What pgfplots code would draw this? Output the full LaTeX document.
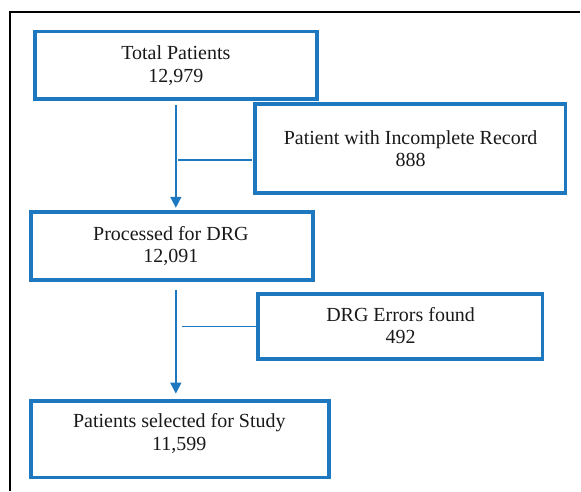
\documentclass[border=0pt]{standalone}
\usepackage{pgfplots}
\pgfplotsset{compat=1.18}
\usepackage{fontspec}
\setmainfont{Liberation Serif}
\usetikzlibrary{arrows.meta}
\definecolor{fcblue}{RGB}{30,120,192}
\begin{document}
\begin{tikzpicture}
\begin{axis}[
  scale only axis, width=581pt, height=491pt,
  xmin=0, xmax=581, ymin=0, ymax=491, y dir=reverse,
  hide axis, clip=false,
]
% extent
\addplot[draw=none] coordinates {(0,0) (581,491)};
% outer frame (top and left only)
\addplot[black, line width=1.1pt] coordinates {(581,12) (10,12) (10,491)};
% boxes
\addplot[fcblue, line width=3.9pt] coordinates {(35,31.5) (317.5,31.5) (317.5,99) (35,99)} -- cycle;
\addplot[fcblue, line width=3.9pt] coordinates {(255,104) (566,104) (566,193) (255,193)} -- cycle;
\addplot[fcblue, line width=3.9pt] coordinates {(31,212.5) (313,212.5) (313,280) (31,280)} -- cycle;
\addplot[fcblue, line width=3.9pt] coordinates {(258,294) (543,294) (543,359) (258,359)} -- cycle;
\addplot[fcblue, line width=3.9pt] coordinates {(31,401) (329,401) (329,478) (31,478)} -- cycle;
% arrows
\addplot[fcblue, line width=1.5pt, -{Triangle[width=11pt,length=11pt]}] coordinates {(176,105) (176,208)};
\addplot[fcblue, line width=1.5pt, -{Triangle[width=11pt,length=11pt]}] coordinates {(176,290) (176,394)};
% side connectors
\addplot[fcblue, line width=1.5pt] coordinates {(178,160) (252,160)};
\addplot[fcblue, line width=1.5pt] coordinates {(182,327) (257,327)};
% texts
\tikzset{t/.style={anchor=base, inner sep=0pt, font=\fontsize{20}{23}\selectfont, text=black!90}}
\node[t] at (axis cs:176,60) {Total Patients};
\node[t] at (axis cs:176,83) {12,979};
\node[t] at (axis cs:411,144.3) {Patient with Incomplete Record};
\node[t] at (axis cs:411,167) {888};
\node[t] at (axis cs:171,240.7) {Processed for DRG};
\node[t] at (axis cs:171,263) {12,091};
\node[t] at (axis cs:401,321.7) {DRG Errors found};
\node[t] at (axis cs:401,344) {492};
\node[t] at (axis cs:179.5,428) {Patients selected for Study};
\node[t] at (axis cs:179.5,450.7) {11,599};
\end{axis}
\end{tikzpicture}
\end{document}
